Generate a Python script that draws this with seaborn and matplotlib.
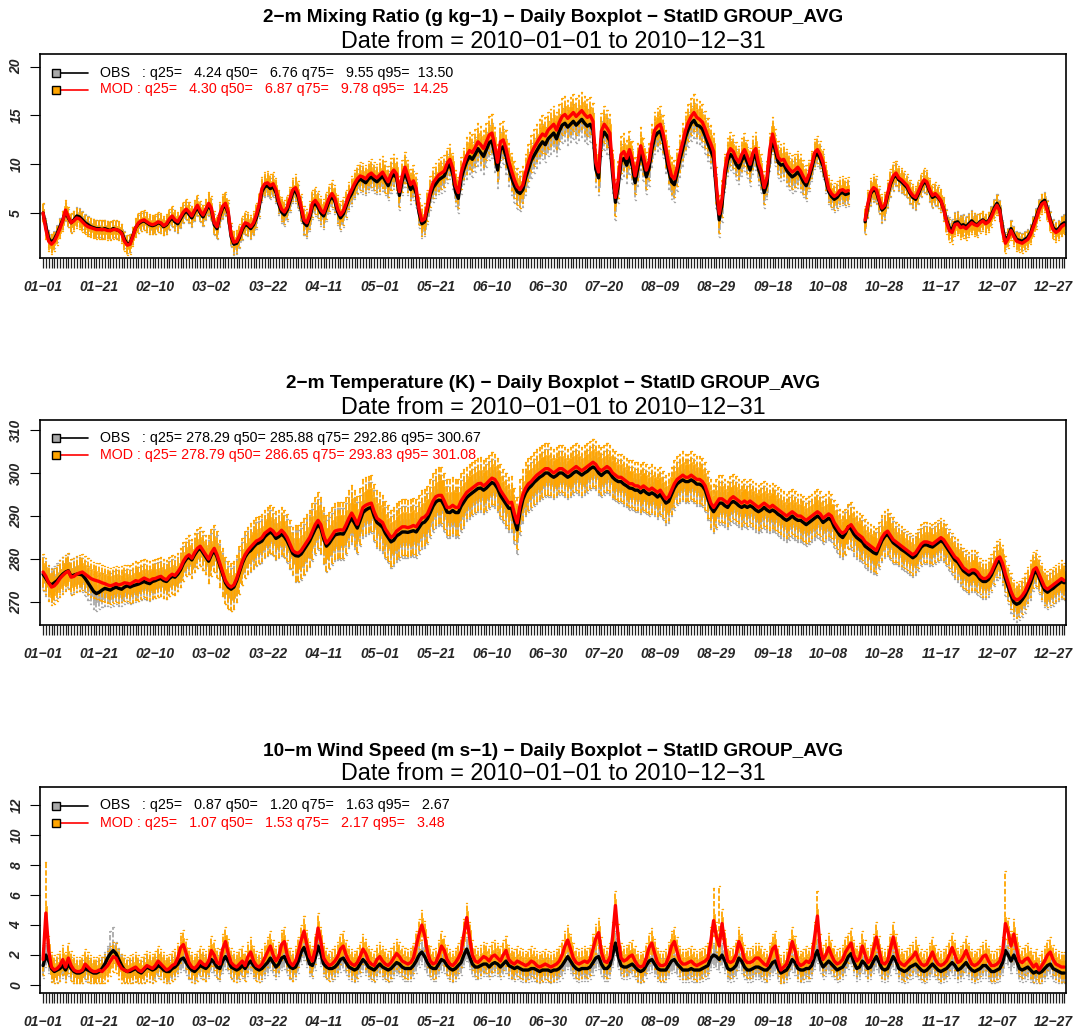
import numpy as np
import pandas as pd
import matplotlib
matplotlib.use("Agg")
import matplotlib.pyplot as plt
import seaborn as sns

nan = np.nan
dates = pd.date_range("2010-01-01", "2010-12-31", freq="D")
month_idx = (dates.month - 1).to_numpy()
day_labels = [s.replace("-", "\u2212") for s in dates.strftime("%m-%d")]

# ---------------- 2-m mixing ratio (g/kg), daily medians ----------------
mr_obs_q50 = [
    5.0, 3.6, 2.4, 2.0, 2.3, 2.9, 3.6, 4.3, 5.1, 4.5,
    4.0, 4.3, 4.7, 4.6, 4.3, 4.0, 3.8, 3.6, 3.5, 3.4,
    3.4, 3.3, 3.4, 3.3, 3.2, 3.4, 3.3, 3.2, 3.0, 2.3,
    1.8, 1.9, 2.7, 3.5, 3.9, 4.1, 4.2, 4.0, 3.8, 3.7,
    3.8, 4.0, 3.9, 3.6, 3.8, 4.2, 4.5, 4.1, 3.9, 4.4,
    4.9, 5.2, 4.9, 4.5, 5.1, 5.6, 5.0, 4.6, 5.2, 5.8,
    5.3, 3.8, 3.4, 4.7, 5.5, 5.8, 4.9, 2.6, 1.8, 1.9,
    2.5, 3.3, 3.8, 3.7, 3.4, 3.8, 4.5, 5.6, 7.2, 7.7,
    7.8, 7.5, 7.7, 7.1, 5.9, 5.1, 4.8, 5.3, 6.2, 7.1,
    7.3, 6.6, 5.3, 4.0, 3.7, 4.5, 5.7, 6.0, 5.6, 5.0,
    4.7, 5.5, 6.3, 6.7, 6.2, 5.1, 4.5, 4.9, 5.7, 6.5,
    7.0, 7.7, 8.2, 8.5, 8.3, 8.1, 8.5, 8.7, 8.4, 8.2,
    8.5, 8.8, 8.3, 7.8, 8.6, 9.0, 8.6, 6.8, 8.3, 9.2,
    8.3, 7.4, 7.8, 7.0, 5.0, 3.9, 4.1, 5.4, 6.8, 7.6,
    8.0, 8.4, 8.6, 8.8, 9.6, 10.0, 9.0, 7.2, 6.5, 8.5,
    9.5, 10.3, 10.8, 10.5, 11.0, 11.6, 11.2, 10.8, 11.5, 12.2,
    12.4, 11.0, 9.4, 11.5, 11.8, 10.8, 9.6, 8.6, 7.8, 7.2,
    7.0, 7.4, 8.6, 9.5, 10.4, 10.9, 11.4, 11.9, 12.3, 12.0,
    12.6, 12.9, 13.2, 12.6, 13.4, 14.0, 14.2, 13.8, 14.1, 14.4,
    14.0, 14.3, 14.6, 14.2, 13.9, 14.1, 13.5, 9.5, 8.6, 12.6,
    13.3, 12.9, 12.4, 8.9, 6.1, 7.8, 10.3, 10.6, 9.9, 10.8,
    9.8, 8.1, 9.6, 11.2, 10.1, 8.7, 9.6, 11.5, 12.8, 13.2,
    13.4, 12.4, 10.9, 9.3, 8.2, 7.9, 9.1, 10.5, 11.6, 12.8,
    13.6, 14.2, 14.5, 14.0, 13.9, 13.6, 12.9, 12.1, 11.4, 10.6,
    7.2, 4.3, 5.9, 8.8, 10.4, 11.0, 10.7, 10.0, 9.6, 10.4,
    10.9, 10.2, 9.4, 10.6, 11.0, 9.5, 8.7, 7.1, 8.0, 10.9,
    12.6, 11.4, 10.2, 9.9, 10.0, 9.4, 9.0, 8.7, 8.9, 9.2,
    8.8, 8.2, 7.8, 8.6, 9.6, 10.8, 11.1, 10.6, 9.8, 8.4,
    7.2, 6.7, 6.4, 6.6, 7.0, 7.1, 6.9, 7.0, nan, nan,
    nan, nan, nan, 4.1, 5.8, 7.0, 7.4, 7.2, 6.2, 5.3,
    5.6, 6.8, 7.9, 8.6, 8.9, 8.4, 8.2, 7.9, 7.6, 7.0,
    6.6, 6.4, 7.0, 7.7, 8.2, 8.0, 7.2, 6.6, 6.8, 6.6,
    6.2, 5.4, 4.3, 3.5, 3.3, 4.0, 4.1, 3.7, 3.8, 3.6,
    3.9, 4.2, 3.9, 3.8, 4.1, 4.3, 4.0, 4.2, 4.8, 5.5,
    6.0, 5.4, 3.4, 2.2, 2.6, 3.4, 2.8, 2.3, 2.2, 2.1,
    2.3, 2.5, 3.0, 3.8, 4.6, 5.5, 6.1, 6.3, 5.4, 4.3,
    3.5, 3.2, 3.4, 3.8, 4.0,
]
mr_mod_q50 = [
    5.0, 3.3, 2.1, 1.8, 2.1, 2.7, 3.4, 4.2, 5.3, 4.6,
    4.0, 4.2, 4.5, 4.4, 4.1, 3.8, 3.6, 3.5, 3.4, 3.3,
    3.3, 3.3, 3.3, 3.2, 3.2, 3.3, 3.3, 3.2, 2.9, 2.1,
    1.7, 1.8, 2.6, 3.5, 4.0, 4.2, 4.3, 4.1, 3.9, 3.8,
    3.9, 4.1, 4.0, 3.7, 3.9, 4.4, 4.7, 4.3, 4.1, 4.6,
    5.1, 5.4, 5.1, 4.7, 5.3, 5.8, 5.2, 4.8, 5.4, 6.0,
    5.5, 4.0, 3.6, 4.9, 5.7, 6.0, 5.1, 2.8, 2.0, 2.1,
    2.7, 3.5, 4.0, 3.9, 3.6, 4.0, 4.8, 5.9, 7.5, 8.0,
    8.1, 7.8, 8.0, 7.4, 6.2, 5.4, 5.1, 5.6, 6.5, 7.4,
    7.6, 6.9, 5.6, 4.3, 4.0, 4.8, 6.0, 6.3, 5.9, 5.3,
    5.0, 5.8, 6.6, 7.0, 6.5, 5.4, 4.8, 5.2, 6.0, 6.8,
    7.4, 8.0, 8.5, 8.8, 8.7, 8.5, 8.9, 9.1, 8.8, 8.6,
    8.9, 9.2, 8.7, 8.2, 9.0, 9.4, 9.0, 7.2, 8.8, 9.7,
    8.8, 7.9, 8.3, 7.5, 5.4, 4.2, 4.4, 5.8, 7.2, 8.1,
    8.5, 8.9, 9.1, 9.3, 10.1, 10.5, 9.6, 7.8, 7.1, 9.1,
    10.1, 10.9, 11.4, 11.2, 11.7, 12.3, 12.0, 11.6, 12.3, 13.0,
    13.2, 11.9, 10.2, 12.3, 12.5, 11.6, 10.3, 9.3, 8.4, 7.7,
    7.4, 7.9, 9.2, 10.2, 11.1, 11.7, 12.2, 12.7, 13.1, 12.9,
    13.5, 13.8, 14.1, 13.5, 14.3, 14.9, 15.1, 14.7, 15.0, 15.3,
    14.9, 15.2, 15.5, 15.1, 14.8, 15.0, 14.4, 10.2, 9.2, 13.4,
    14.1, 13.7, 13.2, 9.6, 6.6, 8.4, 11.0, 11.3, 10.6, 11.5,
    10.5, 8.8, 10.3, 11.9, 10.8, 9.4, 10.3, 12.2, 13.5, 13.9,
    14.1, 13.1, 11.6, 10.0, 8.8, 8.5, 9.7, 11.1, 12.3, 13.5,
    14.3, 14.9, 15.3, 14.8, 14.6, 14.3, 13.6, 12.8, 12.1, 11.3,
    7.8, 4.9, 6.5, 9.4, 11.0, 11.6, 11.3, 10.6, 10.2, 11.0,
    11.5, 10.8, 10.0, 11.2, 11.6, 10.1, 9.3, 7.6, 8.6, 11.5,
    13.1, 11.9, 10.7, 10.4, 10.5, 9.9, 9.5, 9.2, 9.4, 9.7,
    9.3, 8.7, 8.2, 9.0, 10.0, 11.2, 11.5, 11.0, 10.2, 8.8,
    7.5, 7.0, 6.7, 6.9, 7.3, 7.4, 7.2, 7.3, nan, nan,
    nan, nan, nan, 4.3, 6.0, 7.2, 7.6, 7.4, 6.4, 5.5,
    5.8, 7.0, 8.1, 8.8, 9.1, 8.6, 8.4, 8.1, 7.8, 7.2,
    6.8, 6.6, 7.2, 7.9, 8.4, 8.2, 7.4, 6.8, 7.0, 6.7,
    6.3, 5.4, 4.1, 3.2, 3.0, 3.8, 3.9, 3.5, 3.6, 3.4,
    3.7, 4.0, 3.8, 3.7, 4.0, 4.2, 3.9, 4.1, 4.6, 5.3,
    5.8, 5.2, 3.1, 1.9, 2.4, 3.2, 2.6, 2.1, 2.0, 1.9,
    2.1, 2.3, 2.8, 3.6, 4.4, 5.3, 5.9, 6.1, 5.2, 4.1,
    3.3, 3.0, 3.2, 3.6, 3.8,
]
# half-height of the boxes and whisker reach, by month (g/kg)
mr_obs_box = [0.4, 0.4, 0.5, 0.6, 0.7, 0.9, 0.9, 0.9, 0.8, 0.6, 0.5, 0.4]
mr_obs_whisker = [0.9, 0.9, 1.1, 1.3, 1.5, 1.8, 1.8, 1.8, 1.6, 1.3, 1.1, 0.9]
mr_mod_box = [0.4, 0.4, 0.5, 0.6, 0.7, 0.9, 0.9, 0.9, 0.8, 0.6, 0.5, 0.4]
mr_mod_whisker = [1.0, 1.0, 1.2, 1.4, 1.6, 1.9, 1.9, 1.9, 1.7, 1.4, 1.2, 1.0]
mr_obs_stats = [4.24, 6.76, 9.55, 13.50]
mr_mod_stats = [4.30, 6.87, 9.78, 14.25]

# ---------------- 2-m temperature (K), daily medians ----------------
t2_obs_q50 = [
    276.5, 275.5, 274.5, 274.0, 274.5, 275.0, 275.8, 276.5, 277.0, 277.3,
    276.0, 276.3, 276.5, 276.5, 276.3, 275.5, 274.5, 273.5, 272.5, 272.0,
    272.3, 272.8, 273.2, 273.0, 272.8, 273.2, 273.5, 273.2, 273.0, 273.5,
    273.8, 273.5, 273.8, 274.0, 274.2, 274.5, 274.8, 274.5, 274.3, 274.8,
    275.0, 275.3, 275.5, 275.0, 274.8, 275.5, 276.0, 275.8, 276.5, 277.5,
    279.0, 280.0, 280.5, 279.8, 281.0, 282.0, 282.5, 281.5, 280.5, 279.5,
    281.0, 282.0, 280.5, 278.5, 276.5, 274.5, 273.5, 273.0, 273.5, 275.0,
    277.0, 279.0, 280.5, 281.5, 282.0, 282.8, 283.5, 283.8, 284.2, 285.2,
    285.8, 286.3, 285.8, 284.8, 285.2, 285.8, 285.2, 284.2, 282.8, 281.3,
    280.8, 280.7, 281.2, 282.2, 283.2, 284.2, 285.6, 287.0, 288.0, 287.2,
    284.8, 283.0, 283.7, 284.7, 285.6, 285.8, 285.9, 285.8, 287.0, 288.5,
    289.5, 288.4, 287.2, 289.0, 290.8, 291.4, 291.8, 292.0, 290.0, 288.5,
    288.0, 287.4, 286.0, 285.0, 284.0, 284.4, 285.4, 285.8, 286.3, 286.3,
    286.2, 286.4, 286.6, 286.3, 287.3, 288.3, 288.6, 289.4, 290.8, 292.3,
    293.3, 293.7, 293.6, 292.4, 290.9, 290.8, 291.3, 290.8, 290.8, 292.3,
    293.3, 294.3, 294.9, 295.4, 295.9, 296.4, 296.5, 296.0, 296.5, 297.2,
    297.8, 297.4, 296.4, 294.8, 293.8, 292.8, 291.8, 291.8, 289.0, 286.8,
    291.0, 293.8, 295.4, 296.4, 297.0, 297.8, 298.4, 299.0, 299.4, 300.0,
    300.0, 299.4, 299.0, 299.4, 300.0, 300.0, 299.5, 299.0, 299.4, 300.0,
    300.4, 300.0, 299.5, 300.0, 300.4, 301.0, 301.4, 301.0, 300.0, 299.4,
    300.0, 300.4, 300.0, 299.0, 298.4, 298.0, 298.0, 297.4, 297.0, 296.5,
    296.4, 296.0, 296.0, 295.4, 296.0, 295.4, 295.0, 295.4, 295.0, 294.4,
    295.0, 294.0, 293.0, 293.4, 295.0, 296.5, 297.5, 298.0, 298.4, 298.0,
    298.0, 298.4, 298.0, 297.4, 297.4, 297.0, 296.0, 294.0, 292.0, 291.0,
    292.0, 293.0, 293.0, 292.4, 292.0, 293.0, 293.4, 293.0, 292.4, 292.0,
    292.4, 292.0, 292.4, 292.0, 291.4, 291.0, 291.4, 292.0, 291.4, 291.0,
    291.4, 291.0, 290.4, 290.0, 289.4, 289.0, 289.4, 290.0, 289.4, 289.0,
    289.0, 288.5, 288.0, 288.5, 289.0, 289.5, 290.0, 289.5, 288.5, 289.0,
    289.5, 289.0, 287.5, 286.5, 285.5, 285.0, 286.0, 287.5, 287.0, 285.8,
    285.0, 284.5, 284.0, 283.0, 282.5, 282.0, 281.5, 281.2, 282.8, 284.3,
    285.3, 285.8, 284.8, 283.8, 283.3, 282.8, 282.2, 281.8, 281.3, 280.8,
    280.3, 280.8, 281.8, 282.8, 283.3, 283.3, 283.0, 282.8, 283.3, 283.8,
    284.3, 283.8, 282.8, 281.8, 280.8, 279.8, 279.3, 278.3, 277.3, 276.8,
    276.3, 276.8, 276.8, 276.2, 275.3, 274.8, 274.8, 275.3, 276.3, 277.8,
    279.2, 279.6, 278.0, 275.5, 273.5, 271.5, 270.0, 269.5, 269.8, 270.6,
    271.6, 273.0, 274.5, 276.5, 277.3, 275.8, 274.2, 272.8, 272.3, 272.8,
    273.2, 273.8, 274.3, 274.8, 274.5,
]
t2_mod_q50 = [
    277.0, 276.0, 274.5, 273.5, 273.8, 274.5, 275.5, 276.2, 276.8, 277.2,
    275.8, 276.0, 276.5, 276.8, 277.0, 276.5, 276.0, 275.5, 275.2, 275.0,
    274.8, 274.5, 274.3, 274.0, 273.8, 274.0, 274.3, 274.0, 274.2, 274.5,
    274.4, 274.2, 274.6, 275.0, 274.8, 275.2, 275.6, 275.3, 275.0, 275.4,
    275.5, 275.8, 276.0, 275.5, 275.2, 276.0, 276.5, 276.2, 277.0, 278.0,
    279.5, 280.5, 281.0, 280.2, 281.5, 282.5, 283.0, 282.0, 281.0, 280.0,
    281.5, 282.5, 281.0, 279.0, 277.0, 275.0, 274.0, 273.5, 274.0, 275.5,
    277.5, 279.5, 281.0, 282.0, 282.8, 283.5, 284.2, 284.5, 285.0, 286.0,
    286.5, 287.0, 286.5, 285.6, 286.0, 286.7, 286.0, 285.0, 283.5, 282.0,
    281.5, 281.4, 282.0, 283.0, 284.0, 285.0, 286.5, 288.0, 289.0, 288.0,
    285.5, 283.7, 284.5, 285.5, 286.5, 286.7, 286.8, 286.7, 288.0, 289.5,
    290.7, 289.5, 288.1, 290.0, 292.0, 292.5, 292.8, 293.0, 291.0, 289.5,
    289.0, 288.5, 287.0, 286.0, 285.0, 285.5, 286.5, 287.0, 287.5, 287.5,
    287.3, 287.5, 287.8, 287.5, 288.5, 289.5, 289.8, 290.5, 292.0, 293.5,
    294.5, 294.8, 294.8, 293.5, 292.0, 292.0, 292.5, 292.0, 292.0, 293.5,
    294.5, 295.5, 296.0, 296.5, 297.0, 297.5, 297.6, 297.0, 297.5, 298.2,
    298.8, 298.5, 297.5, 296.0, 295.0, 294.0, 293.0, 293.2, 290.5, 288.4,
    292.5, 295.0, 296.5, 297.5, 298.0, 298.8, 299.5, 300.0, 300.5, 301.0,
    301.0, 300.5, 300.0, 300.5, 301.0, 301.0, 300.5, 300.0, 300.5, 301.0,
    301.5, 301.0, 300.5, 301.0, 301.5, 302.0, 302.5, 302.0, 301.0, 300.5,
    301.0, 301.5, 301.0, 300.0, 299.5, 299.0, 299.0, 298.5, 298.0, 297.5,
    297.5, 297.0, 297.0, 296.5, 297.0, 296.5, 296.0, 296.5, 296.0, 295.5,
    296.0, 295.0, 294.0, 294.5, 296.0, 297.5, 298.5, 299.0, 299.5, 299.0,
    299.0, 299.5, 299.0, 298.5, 298.5, 298.0, 297.0, 295.0, 293.0, 292.0,
    293.0, 294.0, 294.0, 293.5, 293.0, 294.0, 294.5, 294.0, 293.5, 293.0,
    293.5, 293.0, 293.5, 293.0, 292.5, 292.0, 292.5, 293.0, 292.5, 292.0,
    292.5, 292.0, 291.5, 291.0, 290.5, 290.0, 290.5, 291.0, 290.5, 290.0,
    290.0, 289.5, 289.0, 289.5, 290.0, 290.5, 291.0, 290.5, 289.5, 290.0,
    290.5, 290.0, 288.5, 287.5, 286.5, 286.0, 286.5, 287.5, 288.0, 287.0,
    286.0, 285.5, 285.0, 284.0, 283.5, 283.0, 282.5, 282.0, 283.5, 285.0,
    286.0, 286.5, 285.5, 284.5, 284.0, 283.5, 283.0, 282.5, 282.0, 281.5,
    281.0, 281.5, 282.5, 283.5, 284.0, 284.0, 283.8, 283.5, 284.0, 284.5,
    285.0, 284.5, 283.5, 282.5, 281.5, 280.5, 280.0, 279.0, 278.0, 277.5,
    277.0, 277.5, 277.5, 277.0, 276.0, 275.5, 275.5, 276.0, 277.0, 278.5,
    280.0, 280.5, 279.0, 276.5, 274.5, 272.5, 271.0, 270.5, 270.8, 271.5,
    272.5, 274.0, 275.5, 277.5, 278.0, 276.5, 275.0, 273.5, 273.0, 273.5,
    274.0, 274.5, 275.0, 275.5, 275.0,
]
t2_obs_box = [2.0, 2.0, 2.5, 3.0, 3.0, 2.8, 2.5, 2.5, 2.5, 2.5, 2.2, 2.0]
t2_obs_whisker = [4.0, 4.0, 5.0, 6.0, 6.0, 5.5, 5.0, 5.0, 5.0, 5.0, 4.5, 4.0]
t2_mod_box = [2.2, 2.2, 2.8, 3.5, 3.5, 3.2, 3.0, 3.0, 2.8, 2.8, 2.4, 2.2]
t2_mod_whisker = [4.2, 4.5, 5.5, 6.5, 6.5, 6.0, 5.5, 5.5, 5.2, 5.2, 4.6, 4.2]
t2_obs_stats = [278.29, 285.88, 292.86, 300.67]
t2_mod_stats = [278.79, 286.65, 293.83, 301.08]

# ---------------- 10-m wind speed (m/s), daily medians ----------------
ws_obs_q50 = [
    1.3, 2.0, 1.6, 1.1, 0.9, 1.0, 1.1, 1.3, 1.0, 1.4,
    1.1, 0.9, 0.8, 0.8, 0.9, 1.1, 1.0, 0.9, 0.8, 0.8,
    0.9, 1.1, 1.4, 1.8, 2.1, 2.3, 2.1, 1.7, 1.3, 1.0,
    0.9, 0.9, 1.0, 1.1, 0.9, 0.8, 1.0, 1.2, 1.1, 1.0,
    1.1, 1.3, 1.2, 1.0, 0.9, 0.9, 1.1, 1.2, 1.4, 1.7,
    1.8, 1.5, 1.2, 1.0, 0.9, 1.1, 1.3, 1.2, 1.1, 1.3,
    1.7, 1.5, 1.2, 1.1, 1.6, 1.9, 1.6, 1.2, 1.1, 1.0,
    1.1, 1.3, 1.1, 1.4, 1.6, 1.3, 1.1, 1.0, 1.1, 1.3,
    1.5, 1.8, 1.5, 1.2, 1.4, 1.8, 1.9, 1.5, 1.2, 1.1,
    1.2, 1.6, 2.2, 2.5, 2.0, 1.4, 1.3, 1.8, 2.6, 2.1,
    1.4, 1.2, 1.1, 1.1, 1.2, 1.4, 1.7, 1.8, 1.5, 1.2,
    1.1, 1.0, 1.1, 1.4, 1.7, 1.5, 1.2, 1.1, 1.0, 1.2,
    1.4, 1.2, 1.1, 1.0, 1.1, 1.3, 1.5, 1.4, 1.2, 1.1,
    1.1, 1.1, 1.3, 1.6, 2.0, 2.2, 1.9, 1.5, 1.2, 1.1,
    1.1, 1.4, 1.7, 1.6, 1.3, 1.1, 1.0, 1.1, 1.3, 1.5,
    2.0, 2.4, 1.9, 1.4, 1.2, 1.2, 1.3, 1.4, 1.4, 1.2,
    1.4, 1.5, 1.4, 1.2, 1.4, 1.6, 1.3, 1.2, 1.1, 1.2,
    1.1, 1.0, 1.0, 1.0, 1.1, 1.1, 1.0, 0.9, 1.0, 1.0,
    1.0, 0.9, 1.0, 1.0, 1.1, 1.3, 1.6, 1.9, 1.6, 1.3,
    1.1, 1.0, 1.1, 1.1, 1.1, 1.2, 1.5, 1.8, 1.9, 1.4,
    1.1, 1.1, 1.3, 2.0, 2.8, 1.9, 1.3, 1.2, 1.2, 1.3,
    1.4, 1.2, 1.0, 0.9, 1.0, 1.3, 1.6, 1.7, 1.4, 1.1,
    1.0, 1.0, 1.0, 1.3, 1.6, 1.7, 1.4, 1.2, 1.0, 1.0,
    1.0, 1.1, 1.0, 1.0, 1.0, 1.1, 1.2, 1.3, 1.8, 2.0,
    1.9, 1.7, 2.0, 1.6, 1.1, 1.0, 1.1, 1.3, 1.8, 1.6,
    1.2, 1.0, 1.0, 1.1, 1.2, 1.2, 1.1, 1.0, 1.0, 1.2,
    1.5, 1.6, 1.1, 0.8, 0.9, 1.0, 1.3, 1.7, 1.5, 1.1,
    1.0, 1.0, 1.1, 1.1, 1.3, 1.9, 2.3, 1.6, 1.2, 1.4,
    1.6, 1.4, 1.2, 1.0, 1.1, 1.2, 1.5, 1.9, 2.1, 1.5,
    1.1, 1.2, 1.6, 1.4, 1.1, 1.2, 1.6, 1.9, 1.5, 1.1,
    1.0, 1.1, 1.5, 1.9, 1.6, 1.1, 1.0, 0.9, 1.0, 1.2,
    1.3, 1.4, 1.2, 1.0, 0.9, 1.0, 1.2, 1.4, 1.2, 1.0,
    0.9, 1.0, 1.1, 1.3, 1.5, 1.3, 1.0, 1.1, 1.3, 1.5,
    1.2, 1.0, 0.9, 1.0, 1.1, 1.3, 1.3, 1.1, 0.9, 0.9,
    1.0, 1.1, 1.5, 2.3, 2.0, 1.6, 2.0, 1.6, 1.1, 1.0,
    1.1, 1.2, 1.0, 0.8, 0.9, 0.8, 0.9, 1.1, 1.3, 1.4,
    1.1, 1.0, 0.9, 0.8, 0.8,
]
ws_mod_q50 = [
    1.7, 4.8, 2.3, 1.2, 1.0, 1.1, 1.3, 1.7, 1.2, 1.8,
    1.3, 1.0, 0.9, 0.9, 1.0, 1.4, 1.2, 1.0, 0.9, 0.9,
    1.0, 0.9, 1.1, 1.3, 1.6, 1.9, 1.8, 1.4, 1.1, 1.0,
    0.9, 1.0, 1.1, 1.2, 1.0, 0.9, 1.1, 1.3, 1.2, 1.1,
    1.3, 1.6, 1.4, 1.2, 1.0, 1.1, 1.3, 1.4, 1.8, 2.5,
    2.7, 2.1, 1.5, 1.2, 1.1, 1.3, 1.6, 1.4, 1.3, 1.6,
    2.3, 2.0, 1.5, 1.4, 2.4, 2.9, 2.1, 1.5, 1.3, 1.2,
    1.4, 1.6, 1.3, 1.9, 2.2, 1.6, 1.3, 1.2, 1.4, 1.8,
    2.2, 2.6, 2.0, 1.6, 1.9, 2.7, 2.9, 2.0, 1.5, 1.3,
    1.6, 2.2, 3.0, 3.6, 2.7, 1.9, 1.6, 2.4, 3.8, 2.9,
    1.8, 1.5, 1.3, 1.4, 1.6, 1.9, 2.4, 2.6, 2.0, 1.6,
    1.4, 1.3, 1.5, 1.9, 2.4, 2.1, 1.6, 1.4, 1.3, 1.7,
    1.9, 1.6, 1.4, 1.3, 1.5, 1.8, 2.1, 1.9, 1.6, 1.5,
    1.4, 1.5, 1.8, 2.6, 3.4, 4.0, 3.3, 2.2, 1.6, 1.4,
    1.5, 2.0, 2.6, 2.3, 1.7, 1.4, 1.3, 1.5, 1.8, 2.2,
    3.4, 4.5, 3.2, 2.0, 1.6, 1.5, 1.7, 1.9, 1.8, 1.6,
    1.9, 2.0, 1.8, 1.6, 2.0, 2.3, 1.7, 1.5, 1.4, 1.6,
    1.5, 1.4, 1.3, 1.4, 1.6, 1.5, 1.3, 1.2, 1.3, 1.4,
    1.3, 1.2, 1.3, 1.4, 1.6, 2.0, 2.6, 3.0, 2.4, 1.8,
    1.5, 1.4, 1.5, 1.6, 1.5, 1.7, 2.4, 3.1, 3.5, 2.2,
    1.6, 1.5, 1.8, 3.2, 5.3, 3.1, 1.8, 1.6, 1.7, 1.9,
    2.0, 1.6, 1.3, 1.2, 1.3, 1.8, 2.5, 2.8, 2.1, 1.5,
    1.3, 1.3, 1.4, 1.9, 2.6, 2.9, 2.2, 1.6, 1.4, 1.4,
    1.5, 1.6, 1.4, 1.3, 1.4, 1.5, 1.6, 1.8, 2.9, 4.3,
    3.2, 2.6, 4.1, 2.7, 1.6, 1.5, 1.6, 2.0, 2.9, 2.4,
    1.7, 1.5, 1.5, 1.6, 1.8, 1.8, 1.6, 1.4, 1.3, 1.8,
    2.4, 2.6, 1.6, 1.0, 1.2, 1.4, 2.1, 2.9, 2.3, 1.5,
    1.3, 1.4, 1.6, 1.5, 1.8, 3.2, 4.6, 2.4, 1.7, 2.0,
    2.5, 2.0, 1.6, 1.4, 1.5, 1.7, 2.2, 2.5, 2.8, 2.0,
    1.6, 1.8, 2.6, 2.0, 1.5, 1.7, 2.4, 3.2, 2.3, 1.5,
    1.4, 1.6, 2.4, 3.2, 2.4, 1.6, 1.4, 1.3, 1.5, 1.7,
    1.9, 2.2, 1.7, 1.4, 1.3, 1.4, 1.8, 2.2, 1.7, 1.4,
    1.3, 1.4, 1.6, 2.0, 2.5, 2.0, 1.5, 1.6, 1.9, 2.3,
    1.8, 1.4, 1.3, 1.4, 1.6, 1.9, 2.0, 1.6, 1.3, 1.3,
    1.4, 1.6, 2.2, 4.1, 3.5, 2.6, 3.4, 2.4, 1.6, 1.5,
    1.7, 1.8, 1.5, 1.2, 1.4, 1.0, 1.3, 1.6, 2.0, 2.2,
    1.7, 1.4, 1.3, 1.2, 1.2,
]
ws_obs_box = [0.35, 0.35, 0.35, 0.35, 0.35, 0.35, 0.35, 0.35, 0.35, 0.35, 0.35, 0.35]
ws_obs_whisker = [0.8, 0.8, 0.8, 0.8, 0.8, 0.8, 0.8, 0.8, 0.8, 0.8, 0.8, 0.8]
ws_mod_box = [0.45, 0.45, 0.45, 0.45, 0.45, 0.45, 0.45, 0.45, 0.45, 0.45, 0.45, 0.45]
ws_mod_whisker = [1.0, 1.0, 1.0, 1.0, 1.0, 1.0, 1.0, 1.0, 1.0, 1.0, 1.0, 1.0]
# days whose upper whisker reaches far above the usual spread (day index: top)
ws_obs_whisker_top = {24: 3.6, 25: 3.9}
ws_mod_whisker_top = {1: 8.2, 204: 6.3, 239: 6.5, 241: 6.6, 276: 6.3, 343: 7.6}
ws_obs_stats = [0.87, 1.20, 1.63, 2.67]
ws_mod_stats = [1.07, 1.53, 2.17, 3.48]

for arr in (mr_obs_q50, mr_mod_q50, t2_obs_q50, t2_mod_q50, ws_obs_q50, ws_mod_q50):
    assert len(arr) == 365, len(arr)

# ---------------- figure ----------------
sns.set_theme(style="white")
plt.rcParams["font.family"] = ["Liberation Sans", "DejaVu Sans"]

W, H = 1076, 1030
fig = plt.figure(figsize=(W / 100, H / 100), dpi=100)

OBS_COLOR = "#a9a9a9"
MOD_COLOR = "#ffa500"


def add_axes_px(left, top, right, bottom):
    return fig.add_axes([left / W, 1 - bottom / H, (right - left) / W, (bottom - top) / H])


def box_stats(med, box, whisk, floor, tops):
    stats, pos = [], []
    for i, m in enumerate(med):
        if np.isnan(m):
            continue
        b = box[month_idx[i]]
        w = whisk[month_idx[i]]
        hi = tops.get(i, m + w)
        stats.append(dict(med=m, q1=max(m - b, floor), q3=m + b,
                          whislo=max(m - w, floor), whishi=hi, fliers=[]))
        pos.append(i)
    return stats, pos


def draw_boxes(ax, stats, pos, color):
    ax.bxp(stats, positions=pos, widths=0.75, patch_artist=True, showfliers=False,
           manage_ticks=False,
           boxprops=dict(facecolor=color, edgecolor=color, linewidth=0.5),
           whiskerprops=dict(color=color, linestyle=(0, (3.0, 1.2)), linewidth=1.3),
           capprops=dict(color=color, linewidth=1.0),
           medianprops=dict(linewidth=0))


def median_frame(obs, mod):
    rows = []
    for name, vals in (("OBS", obs), ("MOD", mod)):
        seg = 0
        prev_nan = True
        for i, v in enumerate(vals):
            if np.isnan(v):
                prev_nan = True
                continue
            if prev_nan:
                seg += 1
                prev_nan = False
            rows.append((i, v, name, f"{name}{seg}"))
    return pd.DataFrame(rows, columns=["day", "value", "series", "segment"])


def draw_panel(top, bottom, title, obs, mod, spreads, floor, ylim, yticks,
               obs_stats, mod_stats, obs_tops=None, mod_tops=None):
    left, right = 40, 1066
    ax = add_axes_px(left, top, right, bottom)
    ax_w, ax_h = right - left, bottom - top

    s, p = box_stats(obs, spreads[0], spreads[1], floor, obs_tops or {})
    draw_boxes(ax, s, p, OBS_COLOR)
    s, p = box_stats(mod, spreads[2], spreads[3], floor, mod_tops or {})
    draw_boxes(ax, s, p, MOD_COLOR)

    df = median_frame(obs, mod)
    sns.lineplot(data=df, x="day", y="value", hue="series", hue_order=["OBS", "MOD"],
                 palette={"OBS": "black", "MOD": "red"}, units="segment",
                 estimator=None, legend=False, linewidth=2.4, ax=ax)

    ax.set_xlim(-1.1, 364.6)
    ax.set_ylim(*ylim)
    ax.set_xlabel("")
    ax.set_ylabel("")

    ax.set_xticks(range(0, 365, 20))
    ax.set_xticklabels(day_labels[::20], fontsize=10, fontweight="bold", fontstyle="italic")
    ax.set_xticks(range(365), minor=True)
    ax.tick_params(axis="x", which="both", bottom=True, length=7.5, width=0.9,
                   color="#202020", direction="out", pad=8)
    ax.set_yticks(yticks)
    ax.set_yticklabels([f"{t:g}" for t in yticks], rotation=90, va="center",
                       fontsize=10, fontweight="bold", fontstyle="italic")
    ax.tick_params(axis="y", which="major", left=True, length=7, width=0.8,
                   color="black", direction="out", pad=5)
    for sp in ax.spines.values():
        sp.set_visible(True)
        sp.set_color("black")
        sp.set_linewidth(1.2)

    # legend block in the upper-left corner
    def fx(px):
        return (px - left) / ax_w

    def fy(py):
        return 1 - (py - top) / ax_h

    rows = [("OBS   ", obs_stats, "black", OBS_COLOR), ("MOD ", mod_stats, "red", MOD_COLOR)]
    for k, (name, st, tc, fc) in enumerate(rows):
        y = fy(top + 18.5 + 17 * k)
        ax.plot([fx(58), fx(88)], [y, y], color=tc, lw=1.2, transform=ax.transAxes,
                clip_on=False, zorder=5)
        ax.plot([fx(56)], [y], marker="s", ms=6, mfc=fc, mec="black", mew=1.0,
                transform=ax.transAxes, clip_on=False, zorder=6, ls="none")
        txt = f"{name}: q25={st[0]:7.2f} q50={st[1]:7.2f} q75={st[2]:7.2f} q95={st[3]:7.2f}"
        ax.text(fx(100), y, txt, color=tc, fontsize=10.3, va="center", ha="left",
                transform=ax.transAxes)

    cx = (left + right) / 2 / W
    fig.text(cx, 1 - (top - 36) / H, title, ha="center", va="center",
             fontsize=13.7, fontweight="bold", color="black")
    fig.text(cx, 1 - (top - 13) / H, "Date from = 2010\u221201\u221201 to 2010\u221212\u221231",
             ha="center", va="center", fontsize=16.8, color="black")
    return ax


draw_panel(54, 258,
           "2\u2212m Mixing Ratio (g kg\u22121) \u2212 Daily Boxplot \u2212 StatID GROUP_AVG",
           mr_obs_q50, mr_mod_q50,
           (mr_obs_box, mr_obs_whisker, mr_mod_box, mr_mod_whisker), -99,
           (0.39, 21.3), [5, 10, 15, 20], mr_obs_stats, mr_mod_stats)

draw_panel(420, 625,
           "2\u2212m Temperature (K) \u2212 Daily Boxplot \u2212 StatID GROUP_AVG",
           t2_obs_q50, t2_mod_q50,
           (t2_obs_box, t2_obs_whisker, t2_mod_box, t2_mod_whisker), -99,
           (264.7, 312.3), [270, 280, 290, 300, 310], t2_obs_stats, t2_mod_stats)

draw_panel(787, 993,
           "10\u2212m Wind Speed (m s\u22121) \u2212 Daily Boxplot \u2212 StatID GROUP_AVG",
           ws_obs_q50, ws_mod_q50,
           (ws_obs_box, ws_obs_whisker, ws_mod_box, ws_mod_whisker), 0.15,
           (-0.53, 13.2), [0, 2, 4, 6, 8, 10, 12], ws_obs_stats, ws_mod_stats,
           ws_obs_whisker_top, ws_mod_whisker_top)

fig.savefig("out.png", dpi=100, facecolor="white")
